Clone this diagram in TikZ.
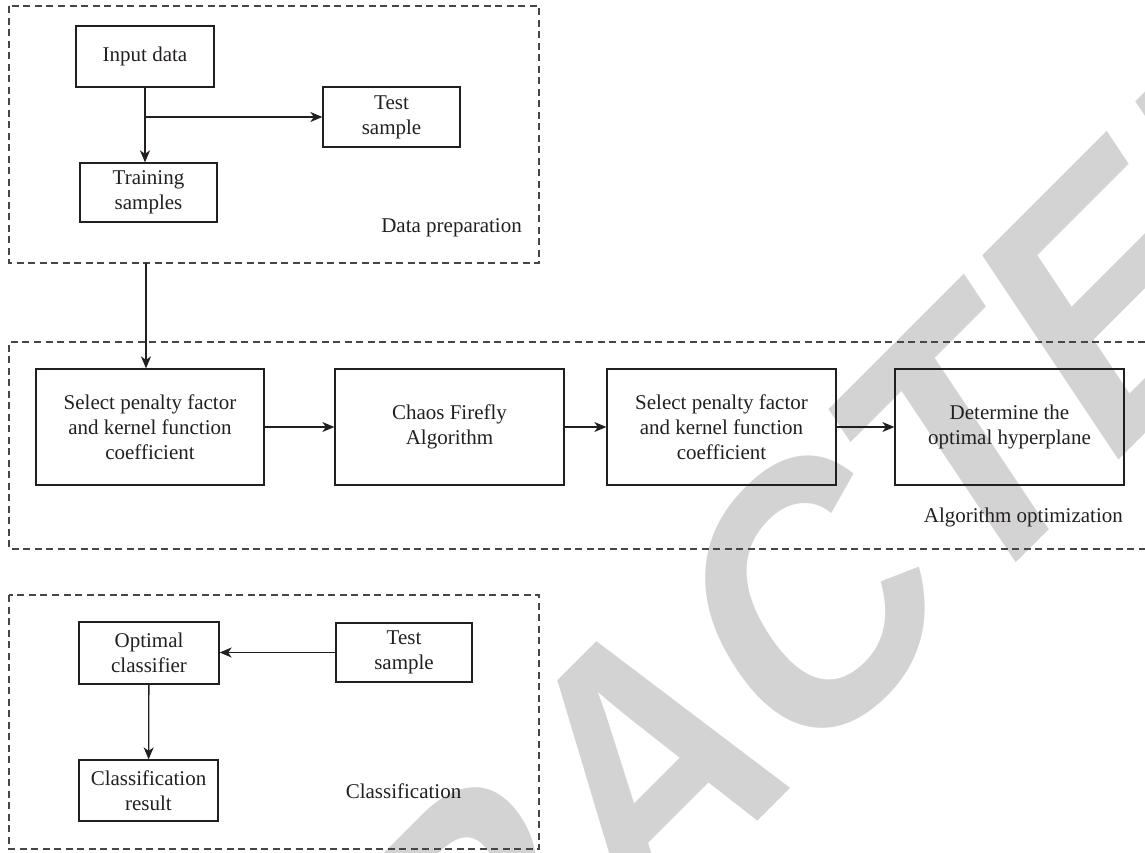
\documentclass[tikz,border=0pt]{standalone}
\usepackage{fontspec}
\setmainfont{Liberation Serif}
\newfontfamily\wmfont{Liberation Sans}[FakeSlant=0.2,FakeStretch=0.93]
\usetikzlibrary{arrows.meta}
\definecolor{wm}{RGB}{211,211,211}
\definecolor{ink}{RGB}{35,31,32}
\definecolor{dashc}{RGB}{70,70,70}
\tikzset{
  box/.style={draw=ink, line width=1.3pt, inner sep=0pt, align=center,
    font=\fontsize{21pt}{25pt}\selectfont, text=ink},
  lbl/.style={inner sep=0pt, font=\fontsize{21pt}{25pt}\selectfont, text=ink},
  frame/.style={draw=dashc, line width=1.2pt, dash pattern=on 7pt off 4.5pt},
  conn/.style={draw=ink, line width=1.3pt, -{Stealth[length=12pt,width=10pt,inset=3.5pt]}}
}
\begin{document}
\begin{tikzpicture}[x=1pt,y=-1pt]
\useasboundingbox (0,0) rectangle (1145,852);
% watermark
\begin{scope}
\clip (0,0) rectangle (1145,852);
\node[rotate=45, text=wm, inner sep=0pt, font=\wmfont\bfseries\fontsize{350pt}{350pt}\selectfont] (wmk) at (628,780) {RETRACTED};
\end{scope}
% frames
\draw[frame] (9,6) rectangle (539,263);
\draw[frame] (1145,342) -- (9,342) -- (9,549) -- (1145,549);
\draw[frame] (9,595) rectangle (539,849);
% data preparation
\node[box, minimum width=138pt, minimum height=61pt] (in) at (145,56.5) {Input data};
\node[box, minimum width=137pt, minimum height=60pt] (test1) at (391.5,117) {Test\\sample};
\node[box, minimum width=137pt, minimum height=59pt] (train) at (148.5,192.5) {Training\\samples};
\node[lbl, anchor=east] (dp) at (522,228) {Data preparation};
\coordinate (split) at (145,117);
\draw[conn] (in.south) -- (in.south |- train.north);
\draw[conn] (split) -- (test1.west);
% algorithm optimization
\node[box, minimum width=228pt, minimum height=116pt] (a) at (150,427) {Select penalty factor\\and kernel function\\coefficient};
\node[box, minimum width=229pt, minimum height=116pt] (b) at (449.5,427) {Chaos Firefly\\Algorithm};
\node[box, minimum width=229pt, minimum height=116pt] (c) at (721.5,427) {Select penalty factor\\and kernel function\\coefficient};
\node[box, minimum width=229pt, minimum height=116pt] (d) at (1009.5,427) {Determine the\\optimal hyperplane};
\node[lbl, anchor=east] (ao) at (1123,517) {Algorithm optimization};
\coordinate (dpout) at (146,263);
\draw[conn] (dpout) -- (dpout |- a.north);
\draw[conn] (a) -- (b);
\draw[conn] (b) -- (c);
\draw[conn] (c) -- (d);
% classification
\node[box, minimum width=140pt, minimum height=62pt] (opt) at (149,653) {Optimal\\classifier};
\node[box, minimum width=136pt, minimum height=59pt] (test2) at (404,652.5) {Test\\sample};
\node[box, minimum width=139pt, minimum height=61pt] (res) at (148.5,790.5) {Classification\\result};
\node[lbl] (cl) at (403.5,791) {Classification};
\draw[conn] (test2.west) -- (test2.west -| opt.east);
\draw[conn] (opt) -- (res);
\end{tikzpicture}
\end{document}
